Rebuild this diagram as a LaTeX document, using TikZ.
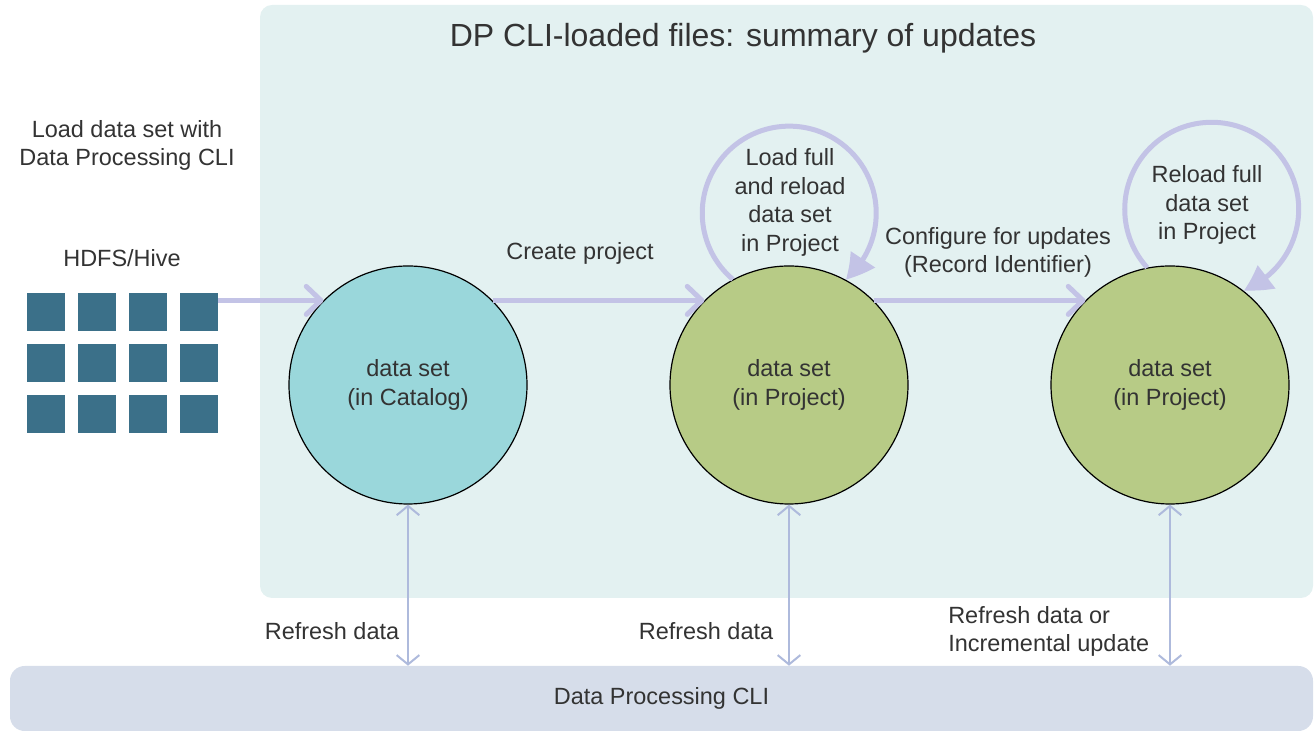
\documentclass[tikz,border=0pt]{standalone}
\usepackage{fontspec}
\setmainfont{Liberation Sans}
\usetikzlibrary{arrows.meta,calc,bending}
\definecolor{panel}{HTML}{E3F1F1}
\definecolor{barcol}{HTML}{D6DDEA}
\definecolor{sqcol}{HTML}{3B7089}
\definecolor{catcol}{HTML}{9AD7DB}
\definecolor{projcol}{HTML}{B7CB86}
\definecolor{lav}{HTML}{C3C3E6}
\definecolor{vcol}{HTML}{AEBADC}
\definecolor{txt}{HTML}{333333}
\begin{document}
\begin{tikzpicture}[x=0.75pt,y=0.75pt,
  every node/.style={text=txt, font=\fontsize{17.6pt}{21.4pt}\selectfont},
  sq/.style={fill=sqcol, minimum size=28.5pt, inner sep=0pt, draw=none},
  ds/.style={circle, draw=black, line width=0.9pt, minimum size=178.5pt, inner sep=0pt, align=center},
  flow/.style={draw=lav, line width=3.75pt, -{Straight Barb[length=11pt,width=21pt,round]}},
  loopar/.style={draw=lav, line width=3.75pt, -{Triangle[length=20pt,width=21pt,bend]}},
  refresh/.style={draw=vcol, line width=1.5pt, {Straight Barb[length=7pt,width=17pt]}-{Straight Barb[length=7pt,width=17pt]}},
  lbl/.style={align=center, inner sep=0pt}
]
\useasboundingbox (0,0) rectangle (1315,731);
\fill[panel, rounded corners=9pt] (260,133) rectangle (1313,726);
\node[fill=barcol, rounded corners=11pt, minimum width=977.25pt, minimum height=48.75pt, inner sep=0pt] (bar) at (661.5,32.5) {Data Processing CLI};

\node[font=\fontsize{24pt}{29pt}\selectfont] (title) at (743,693) {DP CLI-loaded files: summary of updates};
\node[lbl] (load) at (127,585.5) {Load data set with\\Data Processing CLI};
\node[lbl] (hdfs) at (122,473) {HDFS/Hive};

\foreach \c/\x in {1/46,2/97,3/148,4/199}
  \foreach \r/\y in {1/419,2/368,3/317}
    \node[sq] (sq\r\c) at (\x,\y) {};

\node[ds, fill=catcol] (c1) at (408,346) {data set\\(in Catalog)};
\node[ds, fill=projcol] (c2) at (789,346) {data set\\(in Project)};
\node[ds, fill=projcol] (c3) at (1170,346) {data set\\(in Project)};

\draw[flow] (sq14.east |- c1.135) -- (c1.135);
\draw[flow] (c1.45) -- (c2.135);
\draw[flow] (c2.45) -- (c3.135);

\draw[loopar] (c2.118.3) arc[start angle=229.6, end angle=-49.6, radius=87];
\draw[loopar] (c3.101.4) arc[start angle=222.1, end angle=-68.4, radius=87];

\node[lbl] (t2) at (790,528.5) {Load full\\and reload\\data set\\in Project};
\node[lbl] (t3) at (1207,526) {Reload full\\data set\\in Project};
\node[lbl] (lcp) at (580,478) {Create project};
\node[lbl] (lcfg) at (998,478.5) {Configure for updates\\(Record Identifier)};

\draw[refresh] (c1.south) -- (c1.south |- bar.north);
\draw[refresh] (c2.south) -- (c2.south |- bar.north);
\draw[refresh] (c3.south) -- (c3.south |- bar.north);

\node[lbl] (r1) at (332,100) {Refresh data};
\node[lbl] (r2) at (706,100) {Refresh data};
\node[lbl, align=left, anchor=west] (r3) at (948,99.5) {Refresh data or\\Incremental update};
\end{tikzpicture}
\end{document}
